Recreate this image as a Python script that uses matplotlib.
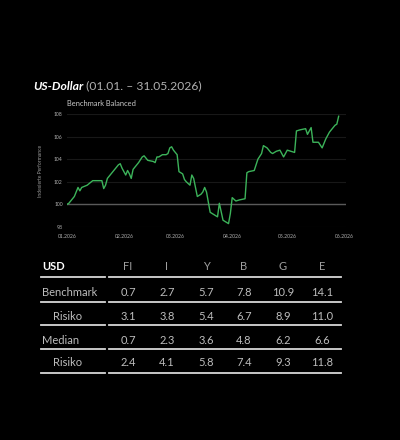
import pandas as pd
import matplotlib.pyplot as plt
from matplotlib.lines import Line2D

plt.rcParams['font.family'] = ['Lato', 'DejaVu Sans']

# Kursverlauf (indexiert, Start = 100)
dates = [
    '2026-01-01', '2026-01-02', '2026-01-05', '2026-01-07', '2026-01-08', '2026-01-09',
    '2026-01-12', '2026-01-15', '2026-01-17', '2026-01-20', '2026-01-21', '2026-01-22',
    '2026-01-23', '2026-01-26', '2026-01-29', '2026-01-30', '2026-01-31',
    '2026-02-02', '2026-02-03', '2026-02-04', '2026-02-05', '2026-02-06', '2026-02-09',
    '2026-02-11', '2026-02-12', '2026-02-14', '2026-02-17', '2026-02-18', '2026-02-19',
    '2026-02-20', '2026-02-22', '2026-02-24', '2026-02-25', '2026-02-26', '2026-02-27',
    '2026-02-28',
    '2026-03-02', '2026-03-03', '2026-03-05', '2026-03-06', '2026-03-07', '2026-03-09',
    '2026-03-10', '2026-03-11', '2026-03-13', '2026-03-15', '2026-03-16', '2026-03-17',
    '2026-03-18', '2026-03-20', '2026-03-23', '2026-03-24', '2026-03-25', '2026-03-27',
    '2026-03-28', '2026-03-30', '2026-03-31',
    '2026-04-01', '2026-04-03', '2026-04-05', '2026-04-08', '2026-04-09', '2026-04-10',
    '2026-04-13', '2026-04-15', '2026-04-17', '2026-04-18', '2026-04-20', '2026-04-22',
    '2026-04-23', '2026-04-25', '2026-04-27', '2026-04-29',
    '2026-05-01', '2026-05-05', '2026-05-06', '2026-05-08', '2026-05-11', '2026-05-12',
    '2026-05-14', '2026-05-15', '2026-05-18', '2026-05-20', '2026-05-22', '2026-05-24',
    '2026-05-27', '2026-05-28', '2026-05-29',
]
values = [
    100.0, 100.1, 100.7, 101.5, 101.2, 101.5,
    101.7, 102.1, 102.1, 102.1, 101.4, 101.7,
    102.3, 102.9, 103.5, 103.6, 103.2,
    102.6, 103.0, 102.7, 102.3, 103.1, 103.7,
    104.2, 104.3, 103.9, 103.8, 103.7, 104.2,
    104.2, 104.4, 104.4, 104.5, 105.0, 105.1,
    104.8,
    104.4, 102.9, 102.7, 102.2, 102.0, 101.7,
    102.6, 102.3, 100.7, 100.9, 101.1, 101.5,
    101.1, 99.3, 99.0, 98.9, 100.1, 98.6,
    98.5, 98.3, 99.2,
    100.6, 100.3, 100.4, 100.5, 102.8, 102.9,
    103.0, 104.0, 104.5, 105.2, 105.0, 104.6,
    104.5, 104.7, 104.8, 104.2,
    104.8, 104.6, 106.5, 106.6, 106.7, 106.2,
    106.8, 105.5, 105.5, 105.0, 105.8, 106.4,
    107.0, 107.1, 107.8,
]
month_ticks = ['2026-01-01', '2026-02-01', '2026-03-01', '2026-04-01', '2026-05-01', '2026-06-01']
month_labels = ['01.2026', '02.2026', '03.2026', '04.2026', '05.2026', '06.2026']
y_ticks = [98, 100, 102, 104, 106, 108]

# Tabelle
col_heads = ['FI', 'I', 'Y', 'B', 'G', 'E']
row_labels = ['Benchmark', 'Risiko', 'Median', 'Risiko']
bench = [0.7, 2.7, 5.7, 7.8, 10.9, 14.1]
bench_risk = [3.1, 3.8, 5.4, 6.7, 8.9, 11.0]
median = [0.7, 2.3, 3.6, 4.8, 6.2, 6.6]
median_risk = [2.4, 4.1, 5.8, 7.4, 9.3, 11.8]
table_rows = [bench, bench_risk, median, median_risk]

W, H = 400, 440
fig = plt.figure(figsize=(W / 100, H / 100), dpi=100, facecolor='black')

def fx(x):
    return x / W

def fy(y):
    return 1 - y / H

# Chart
ax = fig.add_axes([fx(67), fy(227), (346 - 67) / W, (227 - 114) / H])
ax.set_facecolor('black')
x = pd.to_datetime(dates)
ax.plot(x, values, color='#3cb35a', lw=1.0, zorder=3)
ax.axhline(100, color='#5a5a5a', lw=1.0, zorder=2)
ax.set_xlim(pd.Timestamp('2026-01-01'), pd.Timestamp('2026-06-02'))
ax.set_ylim(98, 108)
ax.set_yticks(y_ticks)
ax.set_yticklabels([str(t) for t in y_ticks])
ax.set_xticks(pd.to_datetime(month_ticks))
ax.set_xticklabels(month_labels)
ax.tick_params(length=0, labelsize=3.7, colors='#b0b0b0')
ax.tick_params(axis='y', pad=3)
ax.tick_params(axis='x', pad=5)
ax.grid(axis='y', color='#181818', lw=0.8)
for s in ax.spines.values():
    s.set_visible(False)
ax.set_ylabel('Indexierte Performance', fontsize=3.6, color='#9a9a9a', labelpad=8)
ax.set_title('Benchmark Balanced', loc='left', fontsize=5.4, color='#c8c8c8', pad=6)

# Titel
t1 = fig.text(fx(33), fy(86), 'US-Dollar', fontsize=8.7, fontweight='bold',
              fontstyle='italic', color='white', va='center')
ax.annotate(' (01.01. – 31.05.2026)', xy=(1, 0.5), xycoords=t1, fontsize=8.7,
            color='#b0b0b0', va='center', ha='left', annotation_clip=False)

# Tabelle zeichnen
col_x = [128, 167, 206, 244, 283, 322]
head_y = 267
row_y = [292, 316, 340, 363]
line_y = [277, 302, 325, 349, 373]
tfs = 8

fig.text(fx(42), fy(head_y), 'USD', fontsize=tfs, fontweight='bold', color='white', va='center')
for cx, h in zip(col_x, col_heads):
    fig.text(fx(cx), fy(head_y), h, fontsize=tfs, color='#a0a0a0', va='center', ha='center')

for ry, lab, vals in zip(row_y, row_labels, table_rows):
    lx = 53 if lab == 'Risiko' else 42
    fig.text(fx(lx), fy(ry), lab, fontsize=tfs, color='#bdbdbd', va='center')
    for cx, v in zip(col_x, vals):
        fig.text(fx(cx), fy(ry), f'{v:.1f}', fontsize=tfs, color='#bdbdbd',
                 va='center', ha='center')

for ly in line_y:
    for x0, x1 in [(41, 105), (109, 341)]:
        fig.add_artist(Line2D([fx(x0), fx(x1)], [fy(ly), fy(ly)], color='#d8d8d8',
                              lw=1.3, transform=fig.transFigure))

fig.savefig('out.png', dpi=100, facecolor='black')
